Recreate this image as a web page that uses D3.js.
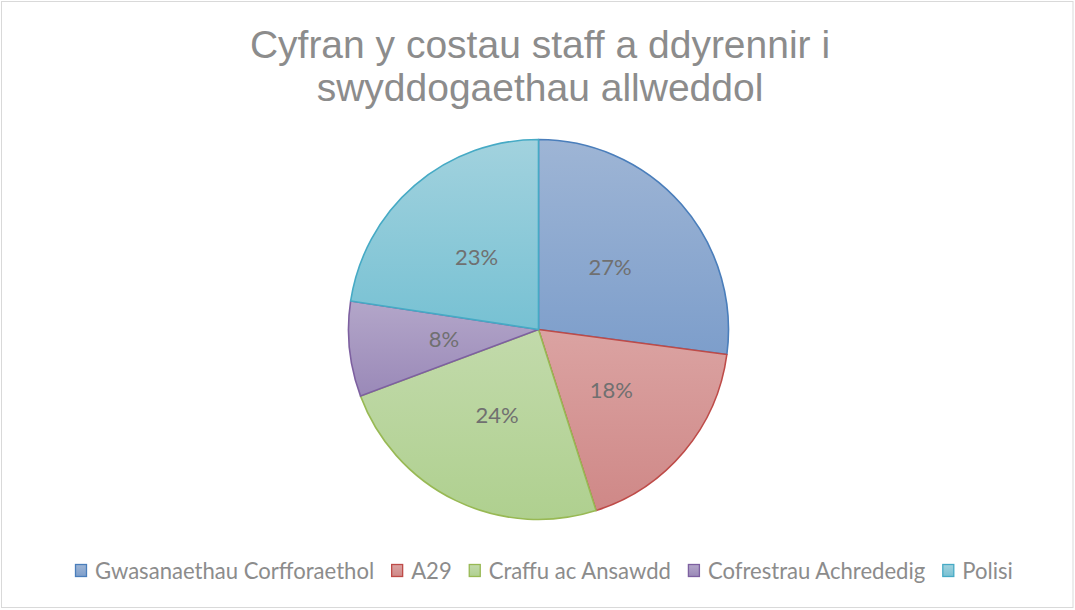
<!DOCTYPE html>
<html><head><meta charset="utf-8">
<script src="https://cdn.jsdelivr.net/npm/d3@7"></script>
<style>body{margin:0;background:#fff}svg{display:block}</style>
</head><body>
<script>
const categories = ["Gwasanaethau Corfforaethol","A29","Craffu ac Ansawdd","Cofrestrau Achrededig","Polisi"];
const values = [27.1, 18.0, 24.2, 8.1, 22.6];
const titleLines = ["Cyfran y costau staff a ddyrennir i","swyddogaethau allweddol"];
const fillTop = ["#9eb5d5","#dba3a2","#c2daab","#b3a6c9","#a2d2de"];
const fillBot = ["#7d9ecb","#cf8887","#afd08f","#9a89b8","#77c1d3"];
const strokes = ["#4a7ebb","#be4b48","#98b954","#7d60a0","#46aac5"];

const W=1075,H=610;
const svg=d3.select("body").append("svg").attr("width",W).attr("height",H);
svg.append("rect").attr("x",1.5).attr("y",1.5).attr("width",W-3.5).attr("height",H-4).attr("fill","#fff").attr("stroke","#d9d9d9").attr("stroke-width",1);

const defs=svg.append("defs");
categories.forEach((c,i)=>{
  const g=defs.append("linearGradient").attr("id","g"+i).attr("x1",0).attr("y1",0).attr("x2",0).attr("y2",1);
  g.append("stop").attr("offset","0%").attr("stop-color",fillTop[i]);
  g.append("stop").attr("offset","100%").attr("stop-color",fillBot[i]);
});

const title=svg.append("text").attr("text-anchor","middle").attr("fill","#8c8c8c")
  .attr("font-family","Liberation Sans, Arial, sans-serif").attr("font-size",39);
titleLines.forEach((t,i)=>title.append("tspan").attr("x",540).attr("y",58+i*43).text(t));

const cx=538.5, cy=329.5, r=190;
const pie=d3.pie().sort(null).value(d=>d)(values);
const arc=d3.arc().innerRadius(0).outerRadius(r);
const gp=svg.append("g").attr("transform",`translate(${cx},${cy})`);
gp.selectAll("path").data(pie).join("path").attr("d",arc)
  .attr("fill",(d,i)=>`url(#g${i})`).attr("stroke",(d,i)=>strokes[i]).attr("stroke-width",1.6).attr("stroke-linejoin","round");
const total=d3.sum(values);
gp.selectAll("text").data(pie).join("text")
  .attr("transform",d=>`translate(${arc.centroid(d)})`)
  .attr("text-anchor","middle").attr("dy","0.35em")
  .attr("font-family","Lato, 'Open Sans', sans-serif").attr("font-size",22).attr("fill","#707070")
  .text(d=>Math.round(d.data/total*100)+"%");

const leg=svg.append("g");
let x=75; const ly=571;
categories.forEach((c,i)=>{
  leg.append("rect").attr("x",x+0.5).attr("y",ly-6.5).attr("width",11).attr("height",12)
    .attr("fill",`url(#g${i})`).attr("stroke",strokes[i]).attr("stroke-width",1.3);
  const t=leg.append("text").attr("x",x+20).attr("y",ly).attr("dy","0.35em")
    .attr("font-family","Lato, 'Open Sans', sans-serif").attr("font-size",22.1).attr("fill","#8c8c8c").text(c);
  x += 20 + t.node().getComputedTextLength() + 17;
});
</script>
</body></html>
